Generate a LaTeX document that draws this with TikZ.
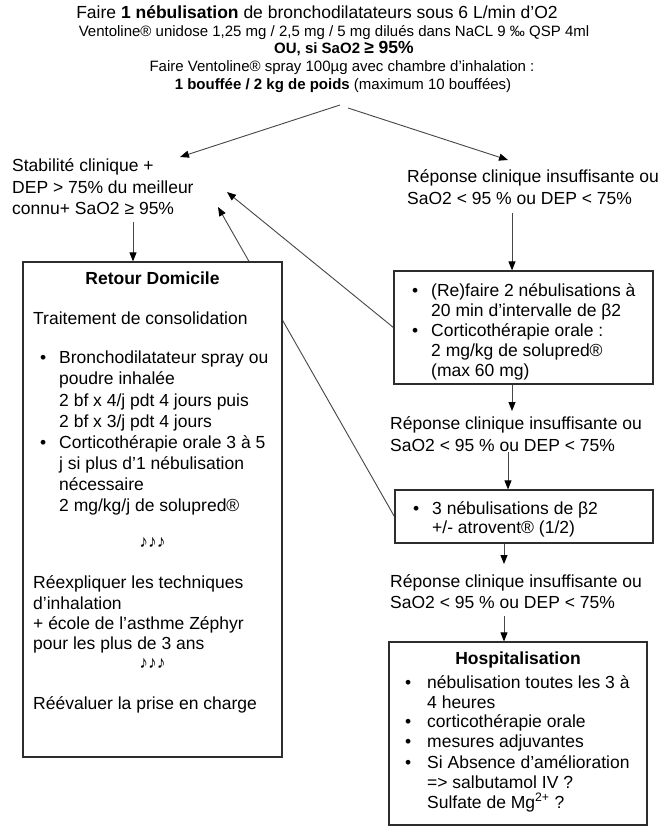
\documentclass[tikz,border=0pt]{standalone}
\usepackage{fontspec}
\setmainfont{Liberation Sans}
\usetikzlibrary{arrows.meta}
\pgfdeclarelayer{bg}
\pgfsetlayers{bg,main}
\definecolor{linegray}{RGB}{70,70,70}
\definecolor{boxgray}{RGB}{45,45,45}
\tikzset{
  big/.style={font=\fontsize{17.5}{20}\selectfont, inner sep=0pt},
  small/.style={font=\fontsize{15}{17}\selectfont, inner sep=0pt},
  lline/.style={big, anchor=base west},
  cline/.style={big, anchor=base},
  bul/.style={big, anchor=base west},
  box/.style={draw=boxgray, line width=1.2pt, fill=white, inner sep=0pt},
  conn/.style={draw=linegray, line width=0.9pt, -{Triangle[length=9pt,width=7pt,black]}},
}
\begin{document}
\begin{tikzpicture}[x=1pt,y=-1pt]
\begin{pgfonlayer}{bg}
\fill[white] (0,0) rectangle (665,833);
\end{pgfonlayer}
\useasboundingbox (0,0) rectangle (665,833);

% top text
\node[big, anchor=base] (t1) at (317,18) {Faire \textbf{1 nébulisation} de bronchodilatateurs sous 6 L/min d’O2};
\node[small, anchor=base] (t2) at (334,36) {Ventoline® unidose 1,25 mg / 2,5 mg / 5 mg dilués dans NaCL 9 ‰ QSP 4ml};
\node[small, anchor=base] (t3) at (344,53) {\textbf{OU, si SaO2 {\fontsize{17.5}{20}\selectfont ≥ 95\%}}};
\node[small, anchor=base] (t4) at (342,71) {Faire Ventoline® spray 100µg avec chambre d’inhalation :};
\node[small, anchor=base] (t5) at (343,89) {\textbf{1 bouffée / 2 kg de poids} (maximum 10 bouffées)};

% left condition
\node[lline] (s1) at (12,171) {Stabilité clinique +};
\node[lline] (s2) at (12,193) {DEP > 75\% du meilleur};
\node[lline] (s3) at (12,214) {connu+ SaO2 ≥ 95\%};

% right conditions
\node[lline] (ra1) at (407,182) {Réponse clinique insuffisante ou};
\node[lline] (ra2) at (407,204) {SaO2 < 95 \% ou DEP < 75\%};
\node[lline] (rb1) at (390,429) {Réponse clinique insuffisante ou};
\node[lline] (rb2) at (390,451) {SaO2 < 95 \% ou DEP < 75\%};
\node[lline] (rc1) at (390,587) {Réponse clinique insuffisante ou};
\node[lline] (rc2) at (390,608) {SaO2 < 95 \% ou DEP < 75\%};

% boxes
\node[box, minimum width=259pt, minimum height=495pt] (ret) at (152.5,509.5) {};
\node[box, minimum width=259pt, minimum height=113pt] (bx1) at (523.5,327.5) {};
\node[box, minimum width=258pt, minimum height=53pt] (bx2) at (524,516.5) {};
\node[box, minimum width=258pt, minimum height=183pt] (bx3) at (518,733.5) {};

% Retour Domicile content
\node[cline] (rt) at (152.5,284) {\textbf{Retour Domicile}};
\node[lline] (rtr) at (33,324) {Traitement de consolidation};
\node[bul] (rb1b) at (40,363) {•};
\node[bul] (rb2b) at (40,448) {•};
\foreach \yy/\txt [count=\i] in {363/{Bronchodilatateur spray ou},384/{poudre inhalée},406/{2 bf x 4/j pdt 4 jours puis},427/{2 bf x 3/j pdt 4 jours},448/{Corticothérapie orale 3 à 5},469/{j si plus d’1 nébulisation},490/{nécessaire},511/{2 mg/kg/j de solupred®}}
  \node[lline] (rl\i) at (59,\yy) {\txt};
\node[cline] (n1) at (152.5,547) {♪♪♪};
\foreach \yy/\txt [count=\i] in {588/{Réexpliquer les techniques},609/{d’inhalation},629/{+ école de l’asthme Zéphyr},649/{pour les plus de 3 ans}}
  \node[lline] (re\i) at (33,\yy) {\txt};
\node[cline] (n2) at (152.5,668) {♪♪♪};
\node[lline] (rev) at (33,709) {Réévaluer la prise en charge};

% box 1 content
\begin{scope}
\clip (394,271) rectangle (653,379);
\node[bul] (b1a) at (412,296) {•};
\node[bul] (b1b) at (412,336) {•};
\foreach \yy/\txt [count=\i] in {296/{(Re)faire 2 nébulisations à},316/{20 min d’intervalle de β2},336/{Corticothérapie orale :},356/{2 mg/kg de solupred®},376/{(max 60 mg)}}
  \node[lline] (bl\i) at (431,\yy) {\txt};
\end{scope}

% box 2 content
\node[bul] (b2a) at (413,514) {•};
\node[lline] (b2l1) at (432,514) {3 nébulisations de β2};
\node[lline] (b2l2) at (432,533) {+/- atrovent® (1/2)};

% box 3 content
\node[cline] (ht) at (518,664) {\textbf{Hospitalisation}};
\foreach \yy [count=\i] in {688,727,747,768}
  \node[bul] (hb\i) at (405,\yy) {•};
\foreach \yy/\txt [count=\i] in {688/{nébulisation toutes les 3 à},708/{4 heures},727/{corticothérapie orale},747/{mesures adjuvantes},768/{Si Absence d’amélioration},788/{=> salbutamol IV ?},808/{Sulfate de Mg\textsuperscript{2+} ?}}
  \node[lline] (hl\i) at (427,\yy) {\txt};

% connector coordinates
\coordinate (a1s) at (340,105);
\coordinate (a1e) at (180,157);
\coordinate (a2s) at (348,108);
\coordinate (a2e) at (508,160);
\coordinate (a3s) at (133,222);
\coordinate (a4s) at (512,213);
\coordinate (a5e) at (512,411);
\coordinate (a6s) at (508,452);
\coordinate (a7e) at (504,564);
\coordinate (a8s) at (504,616);
\coordinate (c1e) at (227,192);
\coordinate (c2e) at (218,207);

\begin{pgfonlayer}{bg}
\draw[conn] (a1s) -- (a1e);
\draw[conn] (a2s) -- (a2e);
\draw[conn] (a3s) -- (ret.north -| a3s);
\draw[conn] (a4s) -- (bx1.north -| a4s);
\draw[conn] (bx1.south -| a5e) -- (a5e);
\draw[conn] (a6s) -- (bx2.north -| a6s);
\draw[conn] (bx2.south -| a7e) -- (a7e);
\draw[conn] (a8s) -- (bx3.north -| a8s);
\draw[conn] (bx1.west) -- (c1e);
\draw[conn] (bx2.west) -- (c2e);
\end{pgfonlayer}
\end{tikzpicture}
\end{document}
